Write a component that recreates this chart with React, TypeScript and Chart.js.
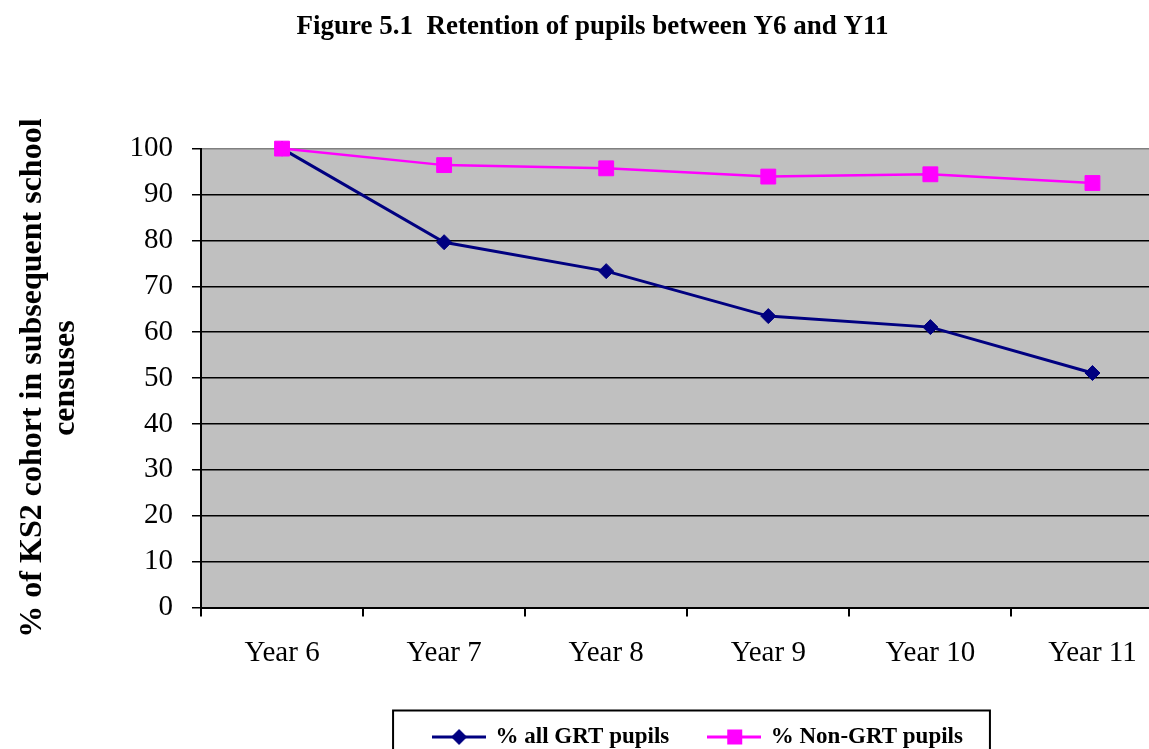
import React, { useEffect, useRef } from "react";
import { Chart, registerables } from "chart.js";

Chart.register(...registerables);

const categories = ["Year 6", "Year 7", "Year 8", "Year 9", "Year 10", "Year 11"];
const grtValues = [100, 79.6, 73.3, 63.5, 61.1, 51.1];
const nonGrtValues = [100, 96.4, 95.7, 93.9, 94.4, 92.5];
const seriesLabels = ["% all GRT pupils", "% Non-GRT pupils"];
const titleText = "Figure 5.1  Retention of pupils between Y6 and Y11";
const yAxisTitle = ["% of KS2 cohort in subsequent school", "censuses"];
const yMin = 0;
const yMax = 100;
const yStep = 10;

const SERIF = "'Liberation Serif', 'Times New Roman', serif";
const GRT_COLOR = "#000080";
const NON_GRT_COLOR = "#FF00FF";

function makeLegendSymbol(color: string, kind: "diamond" | "square"): HTMLCanvasElement {
  const c = document.createElement("canvas");
  c.width = 54;
  c.height = 22;
  const ctx = c.getContext("2d")!;
  ctx.strokeStyle = color;
  ctx.lineWidth = 3;
  ctx.beginPath();
  ctx.moveTo(0, 11);
  ctx.lineTo(54, 11);
  ctx.stroke();
  ctx.fillStyle = color;
  if (kind === "diamond") {
    ctx.beginPath();
    ctx.moveTo(27, 3);
    ctx.lineTo(35, 11);
    ctx.lineTo(27, 19);
    ctx.lineTo(19, 11);
    ctx.closePath();
    ctx.fill();
  } else {
    ctx.fillRect(20, 3.5, 15, 15);
  }
  return c;
}

export default function App() {
  const canvasRef = useRef<HTMLCanvasElement | null>(null);

  useEffect(() => {
    if (!canvasRef.current) return;
    const symbols = [makeLegendSymbol(GRT_COLOR, "diamond"), makeLegendSymbol(NON_GRT_COLOR, "square")];

    const bgPlugin = {
      id: "plotBg",
      beforeDraw(chart: any) {
        const { ctx, chartArea } = chart;
        ctx.save();
        ctx.fillStyle = "#C0C0C0";
        ctx.fillRect(chartArea.left, chartArea.top, chartArea.right - chartArea.left, chartArea.bottom - chartArea.top);
        ctx.restore();
      },
    };

    const legendShift = {
      id: "legendShift",
      afterLayout(chart: any) {
        const lg = chart.legend;
        if (!lg) return;
        const shift = 106;
        lg.left += shift;
        lg.right += shift;
      },
    };

    const legendBorder = {
      id: "legendBorder",
      afterDraw(chart: any) {
        const lg = chart.legend;
        if (!lg || !lg.legendHitBoxes || lg.legendHitBoxes.length === 0) return;
        const hb = lg.legendHitBoxes;
        const first = hb[0];
        const last = hb[hb.length - 1];
        const left = first.left - 41;
        const right = last.left + last.width + 27;
        const top = first.top - 15;
        const { ctx } = chart;
        ctx.save();
        ctx.strokeStyle = "#000";
        ctx.lineWidth = 2;
        ctx.strokeRect(left, top, right - left, 100);
        ctx.restore();
      },
    };

    const chart = new Chart(canvasRef.current, {
      type: "line",
      data: {
        labels: categories,
        datasets: [
          {
            label: seriesLabels[0],
            data: grtValues,
            borderColor: GRT_COLOR,
            backgroundColor: GRT_COLOR,
            borderWidth: 3,
            pointStyle: "rectRot",
            pointRadius: 7.5,
            pointBackgroundColor: GRT_COLOR,
            pointBorderColor: GRT_COLOR,
            pointBorderWidth: 1,
            tension: 0,
            fill: false,
            clip: false,
            order: 1,
          },
          {
            label: seriesLabels[1],
            data: nonGrtValues,
            borderColor: NON_GRT_COLOR,
            backgroundColor: NON_GRT_COLOR,
            borderWidth: 2.5,
            pointStyle: "rect",
            pointRadius: 10.5,
            pointBackgroundColor: NON_GRT_COLOR,
            pointBorderColor: NON_GRT_COLOR,
            pointBorderWidth: 1,
            tension: 0,
            fill: false,
            clip: false,
            order: 0,
          },
        ],
      },
      options: {
        responsive: false,
        animation: false,
        devicePixelRatio: 1,
        layout: { padding: { left: 0, right: 0, top: 0, bottom: 11.5 } },
        plugins: {
          title: {
            display: true,
            text: titleText,
            color: "#000",
            font: { family: SERIF, size: 27, weight: "bold", lineHeight: 1.2 },
            padding: { top: 10.8, bottom: 105.4 },
          },
          legend: {
            display: true,
            position: "bottom",
            labels: {
              usePointStyle: true,
              pointStyleWidth: 50,
              padding: 40,
              color: "#000",
              font: { family: SERIF, size: 23, weight: "bold" },
              sort: (a: any, b: any) => a.datasetIndex - b.datasetIndex,
              generateLabels(chart: any) {
                const items = Chart.defaults.plugins.legend.labels.generateLabels(chart);
                return items.map((it: any) => ({ ...it, pointStyle: symbols[it.datasetIndex], rotation: 0 }));
              },
            },
          },
          tooltip: { enabled: false },
        },
        scales: {
          x: {
            type: "category",
            offset: true,
            afterFit(scale: any) {
              scale.height = 78;
            },
            grid: {
              offset: true,
              drawOnChartArea: false,
              drawTicks: true,
              tickLength: 9,
              color: "#000",
              lineWidth: 2,
            },
            border: { display: true, color: "#000", width: 2 },
            ticks: {
              color: "#000",
              padding: 19,
              font: { family: SERIF, size: 29 },
              maxRotation: 0,
              autoSkip: false,
            },
          },
          y: {
            min: yMin,
            max: yMax,
            afterFit(scale: any) {
              scale.width = 201;
            },
            grid: {
              color: (c: any) => (c.tick && c.tick.value === yMax ? "#808080" : "#000"),
              tickColor: "#000",
              lineWidth: 1.5,
              drawTicks: true,
              tickLength: 9,
            },
            border: { display: true, color: "#000", width: 2 },
            ticks: {
              stepSize: yStep,
              color: "#000",
              padding: 19,
              font: { family: SERIF, size: 29 },
            },
            title: {
              display: true,
              text: yAxisTitle,
              color: "#000",
              font: { family: SERIF, size: 32, weight: "bold", lineHeight: 1.05 },
              padding: { top: 15.5, bottom: 0 },
            },
          },
        },
      },
      plugins: [bgPlugin, legendShift, legendBorder],
    } as any);

    return () => chart.destroy();
  }, []);

  return (
    <div
      style={{
        position: "fixed",
        left: 0,
        top: 0,
        width: 1149,
        height: 749,
        overflow: "hidden",
        background: "#fff",
      }}
    >
      <canvas ref={canvasRef} width={1185} height={770} style={{ display: "block", width: 1185, height: 770 }} />
    </div>
  );
}
